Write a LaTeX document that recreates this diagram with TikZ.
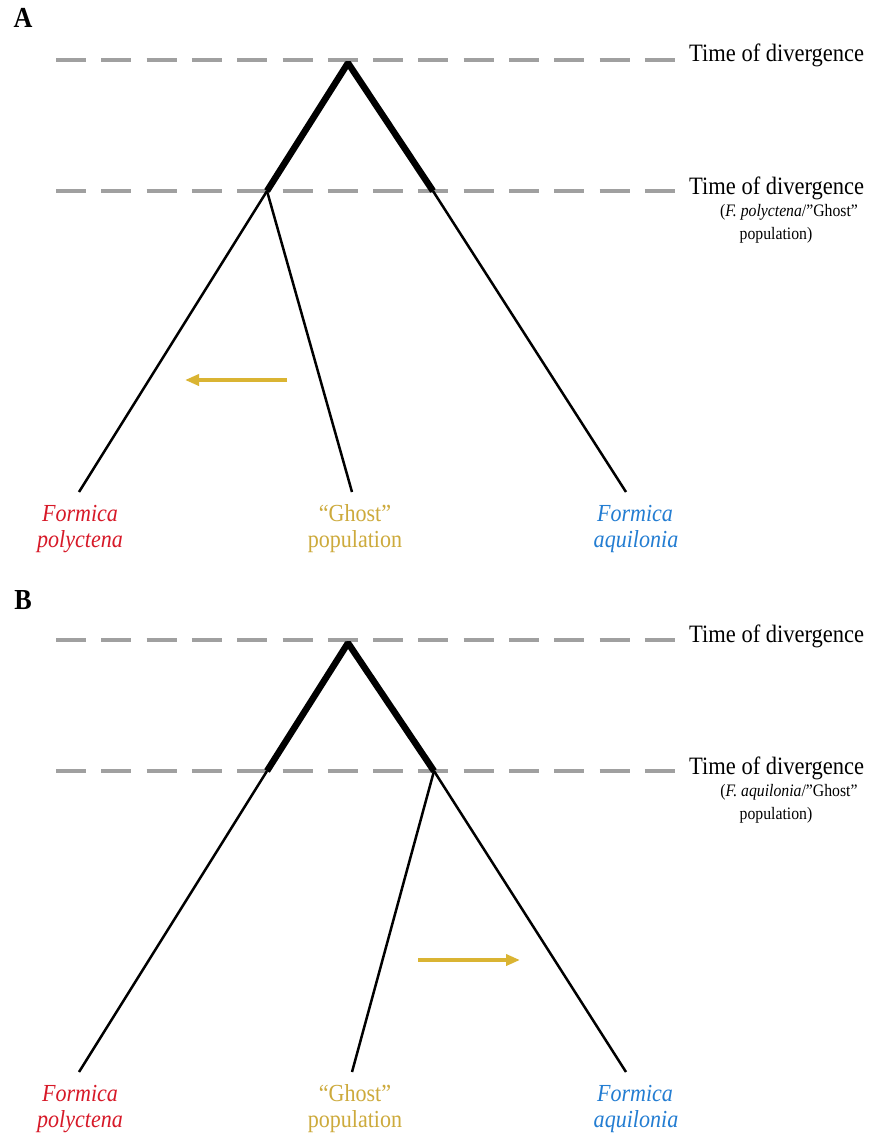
\documentclass[tikz,border=0pt]{standalone}
\usepackage{fontspec}
\setmainfont{Liberation Serif}[FakeStretch=0.9]
\usetikzlibrary{arrows.meta}
\definecolor{divgray}{RGB}{160,160,160}
\definecolor{fpred}{RGB}{215,25,40}
\definecolor{ghostgold}{RGB}{205,170,60}
\definecolor{arrowgold}{RGB}{218,180,50}
\definecolor{faqblue}{RGB}{35,125,210}
\tikzset{
  divline/.style={draw=divgray, line width=4pt, dash pattern=on 30pt off 15.3pt},
  thickbr/.style={line width=6.5pt, line join=bevel},
  thinbr/.style={line width=2.5pt},
  migr/.style={draw=arrowgold, line width=4pt, -{Triangle[length=14pt,width=11pt]}},
  lbl/.style={inner sep=0pt, anchor=base, font=\fontsize{24.5}{28}\selectfont},
  sp/.style={lbl, font=\fontsize{24.5}{28}\selectfont\itshape},
  ttl/.style={inner sep=0pt, anchor=base west, font=\fontsize{25}{28}\selectfont},
  subt/.style={inner sep=0pt, anchor=base, font=\fontsize{17.5}{20}\selectfont},
  panel/.style={inner sep=0pt, anchor=base, font=\fontsize{29}{32}\selectfont\bfseries}
}
\begin{document}
\begin{tikzpicture}[x=1pt,y=-1pt]
\useasboundingbox[fill=white] (0,0) rectangle (868,1134);

% ---------------- Panel A ----------------
\node[panel] (pA) at (23,28) {A};
\coordinate (dA1s) at (56,60);  \coordinate (dA1e) at (676,60);
\coordinate (dA2s) at (56,191); \coordinate (dA2e) at (676,191);
\draw[divline] (dA1s) -- (dA1e);
\draw[divline] (dA2s) -- (dA2e);
\coordinate (apexA) at (348,63);
\coordinate (lbA) at (267,191);
\coordinate (rbA) at (433,191);
\coordinate (polyA) at (79,492);
\coordinate (ghostA) at (352,492);
\coordinate (aquiA) at (626,492);
\draw[thickbr] (lbA) -- (apexA) -- (rbA);
\draw[thinbr] (lbA) -- (polyA);
\draw[thinbr] (lbA) -- (ghostA);
\draw[thinbr] (rbA) -- (aquiA);
\coordinate (mA1) at (287,380); \coordinate (mA2) at (185,380);
\draw[migr] (mA1) -- (mA2);
\node[ttl] (tA1) at (689,62) {Time of divergence};
\node[ttl] (tA2) at (689,194) {Time of divergence};
\node[subt] (sA1) at (789,216) {(\textit{F. polyctena}/”Ghost”};
\node[subt] (sA2) at (776,239) {population)};
\node[sp, text=fpred] (lpA1) at (80,521) {Formica};
\node[sp, text=fpred] (lpA2) at (80,547) {polyctena};
\node[lbl, text=ghostgold] (lgA1) at (355,521) {“Ghost”};
\node[lbl, text=ghostgold] (lgA2) at (355,547) {population};
\node[sp, text=faqblue] (laA1) at (635,521) {Formica};
\node[sp, text=faqblue] (laA2) at (636,547) {aquilonia};

% ---------------- Panel B ----------------
\node[panel] (pB) at (23,609) {B};
\coordinate (dB1s) at (56,640);  \coordinate (dB1e) at (676,640);
\coordinate (dB2s) at (56,771);  \coordinate (dB2e) at (676,771);
\draw[divline] (dB1s) -- (dB1e);
\draw[divline] (dB2s) -- (dB2e);
\coordinate (apexB) at (348,643);
\coordinate (lbB) at (267,771);
\coordinate (rbB) at (434,771);
\coordinate (polyB) at (79,1072);
\coordinate (ghostB) at (352,1072);
\coordinate (aquiB) at (626,1072);
\draw[thickbr] (lbB) -- (apexB) -- (rbB);
\draw[thinbr] (lbB) -- (polyB);
\draw[thinbr] (rbB) -- (ghostB);
\draw[thinbr] (rbB) -- (aquiB);
\coordinate (mB1) at (418,960); \coordinate (mB2) at (520,960);
\draw[migr] (mB1) -- (mB2);
\node[ttl] (tB1) at (689,642) {Time of divergence};
\node[ttl] (tB2) at (689,774) {Time of divergence};
\node[subt] (sB1) at (789,796) {(\textit{F. aquilonia}/”Ghost”};
\node[subt] (sB2) at (776,819) {population)};
\node[sp, text=fpred] (lpB1) at (80,1101) {Formica};
\node[sp, text=fpred] (lpB2) at (80,1127) {polyctena};
\node[lbl, text=ghostgold] (lgB1) at (355,1101) {“Ghost”};
\node[lbl, text=ghostgold] (lgB2) at (355,1127) {population};
\node[sp, text=faqblue] (laB1) at (635,1101) {Formica};
\node[sp, text=faqblue] (laB2) at (636,1127) {aquilonia};
\end{tikzpicture}
\end{document}
